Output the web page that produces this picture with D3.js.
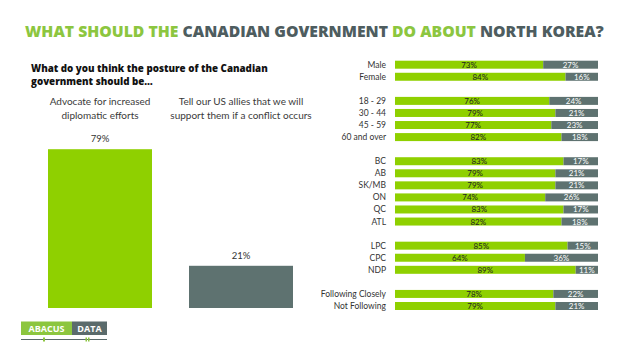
<!DOCTYPE html>
<html><head><meta charset="utf-8">
<script src="https://cdn.jsdelivr.net/npm/d3@7"></script>
<style>body{margin:0;background:#fff}svg{display:block}</style>
</head><body>
<svg id="c" width="630" height="354"></svg>
<script>
const titleParts = [["WHAT SHOULD THE ", "g"], ["CANADIAN GOVERNMENT ", "d"], ["DO ABOUT ", "g"], ["NORTH KOREA?", "d"]];
const subtitleLines = ["What do you think the posture of the Canadian", "government should be…"];
const mainCategories = [["Advocate for increased", "diplomatic efforts"], ["Tell our US allies that we will", "support them if a conflict occurs"]];
const mainValues = [79, 21];
const groups = [
  ["Male", "Female"],
  ["18 - 29", "30 - 44", "45 - 59", "60 and over"],
  ["BC", "AB", "SK/MB", "ON", "QC", "ATL"],
  ["LPC", "CPC", "NDP"],
  ["Following Closely", "Not Following"]
];
const diplomacy = [73, 84, 76, 79, 77, 82, 83, 79, 79, 74, 83, 82, 85, 64, 89, 78, 79];
const support = [27, 16, 24, 21, 23, 18, 17, 21, 21, 26, 17, 18, 15, 36, 11, 22, 21];

const GREEN = "#8fd000", GREY = "#5e7270", TGREEN = "#8cc63f", TDARK = "#4e5d5f";
const svg = d3.select("#c");

// Title
const title = svg.append("text").attr("x", 25).attr("y", 37)
  .attr("font-family", "'Open Sans', sans-serif").attr("font-weight", 800).attr("font-size", 17);
titleParts.forEach(([t, c]) => title.append("tspan").text(t).attr("fill", c === "g" ? TGREEN : TDARK));
const tw = title.node().getComputedTextLength();
title.attr("font-size", 17 * 579 / tw);

// Subtitle
const sub = svg.append("g").attr("font-family", "'Open Sans', sans-serif").attr("font-weight", 800).attr("font-size", 11);
sub.selectAll("text").data(subtitleLines).join("text")
  .attr("x", 31).attr("y", (d, i) => 72 + i * 12.5)
  .attr("fill", "#111").text(d => d);
const sw = sub.select("text").node().getComputedTextLength();
sub.attr("font-size", 11 * 237 / sw);

// Left chart
const xL = d3.scaleBand().domain(d3.range(mainValues.length)).range([48, 293]).paddingInner(37 / 141).paddingOuter(0);
const yL = d3.scaleLinear().domain([0, 100]).range([308, 107]);
const gl = svg.append("g");
gl.selectAll("rect").data(mainValues).join("rect")
  .attr("x", (d, i) => xL(i)).attr("width", xL.bandwidth())
  .attr("y", d => yL(d)).attr("height", d => yL(0) - yL(d))
  .attr("fill", (d, i) => i === 0 ? GREEN : GREY);
gl.selectAll("text.v").data(mainValues).join("text").attr("class", "v")
  .attr("x", (d, i) => xL(i) + xL.bandwidth() / 2).attr("y", d => yL(d) - 7)
  .attr("text-anchor", "middle").attr("font-family", "Lato, sans-serif").attr("font-size", 9.5)
  .attr("fill", "#333").text(d => d + "%");
mainCategories.forEach((lines, i) => {
  gl.append("g").selectAll("text").data(lines).join("text")
    .attr("x", xL(i) + xL.bandwidth() / 2).attr("y", (d, j) => 104.5 + j * 14)
    .attr("text-anchor", "middle").attr("font-family", "Lato, sans-serif").attr("font-weight", 400)
    .attr("font-size", 10).attr("fill", "#3a3a3a").text(d => d);
});

// Right chart
const slots = [];
const rows = [];
groups.forEach((g, gi) => {
  if (gi > 0) slots.push("gap" + gi);
  g.forEach(c => { slots.push(c); rows.push(c); });
});
const yR = d3.scalePoint().domain(slots).range([64.7, 306]);
const xR = d3.scaleLinear().domain([0, 100]).range([395, 598]);
const bh = 8;
const gr = svg.append("g");
const data = rows.map((c, i) => ({c, a: diplomacy[i], b: support[i]}));
gr.selectAll("text.lab").data(data).join("text").attr("class", "lab")
  .attr("x", 386).attr("y", d => yR(d.c) + 3)
  .attr("text-anchor", "end").attr("font-family", "Lato, sans-serif").attr("font-size", 8.5)
  .attr("fill", "#333").text(d => d.c);
gr.selectAll("rect.a").data(data).join("rect").attr("class", "a")
  .attr("x", xR(0)).attr("width", d => xR(d.a) - xR(0))
  .attr("y", d => yR(d.c) - bh / 2).attr("height", bh).attr("fill", GREEN);
gr.selectAll("rect.b").data(data).join("rect").attr("class", "b")
  .attr("x", d => xR(d.a)).attr("width", d => xR(d.a + d.b) - xR(d.a))
  .attr("y", d => yR(d.c) - bh / 2).attr("height", bh).attr("fill", GREY);
gr.selectAll("text.ta").data(data).join("text").attr("class", "ta")
  .attr("x", d => (xR(0) + xR(d.a)) / 2).attr("y", d => yR(d.c) + 3)
  .attr("text-anchor", "middle").attr("font-family", "Lato, sans-serif").attr("font-size", 8)
  .attr("fill", "#222").text(d => d.a + "%");
gr.selectAll("text.tb").data(data).join("text").attr("class", "tb")
  .attr("x", d => (xR(d.a) + xR(d.a + d.b)) / 2).attr("y", d => yR(d.c) + 3)
  .attr("text-anchor", "middle").attr("font-family", "Lato, sans-serif").attr("font-size", 8)
  .attr("fill", "#fff").text(d => d.b + "%");

// Logo
const lg = svg.append("g");
lg.append("rect").attr("x", 21).attr("y", 321.5).attr("width", 51).attr("height", 13.5).attr("fill", "#8cc63f");
lg.append("rect").attr("x", 72).attr("y", 321.5).attr("width", 35).attr("height", 13.5).attr("fill", "#5b6b6c");
lg.append("text").attr("x", 46.5).attr("y", 331.8).attr("text-anchor", "middle").attr("font-family", "'Open Sans', sans-serif")
  .attr("font-weight", 700).attr("font-size", 9).attr("fill", "#fff").text("ABACUS");
lg.append("text").attr("x", 89.5).attr("y", 331.8).attr("text-anchor", "middle").attr("font-family", "'Open Sans', sans-serif")
  .attr("font-weight", 700).attr("font-size", 9).attr("fill", "#fff").text("DATA");
lg.append("line").attr("x1", 21).attr("x2", 107).attr("y1", 339.5).attr("y2", 339.5).attr("stroke", "#5b6b6c").attr("stroke-width", 1);
lg.append("rect").attr("x", 43).attr("y", 337.5).attr("width", 2).attr("height", 4).attr("fill", "#8cc63f");
lg.append("rect").attr("x", 85.5).attr("y", 337.5).attr("width", 1.5).attr("height", 4).attr("fill", "#8cc63f");
lg.append("rect").attr("x", 88).attr("y", 337.5).attr("width", 1.5).attr("height", 4).attr("fill", "#8cc63f");
</script>
</body></html>
